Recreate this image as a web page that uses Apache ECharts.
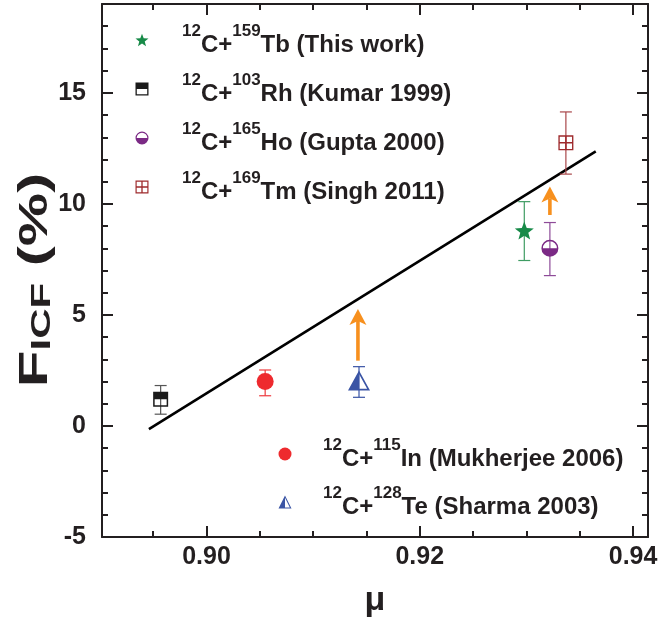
<!DOCTYPE html>
<html><head><meta charset="utf-8">
<script src="https://cdn.jsdelivr.net/npm/echarts@6/dist/echarts.min.js"></script>
<style>html,body{margin:0;padding:0;background:#fff}#c{width:660px;height:624px}</style>
</head><body><div id="c"></div>
<script>
// ---- data ----
const targets = ['Tb', 'Rh', 'Ho', 'Tm', 'In', 'Te'];
const massNumbers = ['159', '103', '165', '169', '115', '128'];
const references = ['This work', 'Kumar 1999', 'Gupta 2000', 'Singh 2011', 'Mukherjee 2006', 'Sharma 2003'];
const muValues = [0.9298, 0.8957, 0.9322, 0.9337, 0.9055, 0.9143];
const ficfValues = [8.8, 1.2, 8.0, 12.75, 2.0, 2.05];
const ficfLow = [7.45, 0.53, 6.77, 11.34, 1.36, 1.29];
const ficfHigh = [10.1, 1.82, 9.16, 14.14, 2.52, 2.67];
const fitMu = [0.8946, 0.9365];
const fitFicf = [-0.14, 12.36];
const arrowMu = [0.9142, 0.9322];
const arrowFrom = [2.94, 9.5];
const arrowTo = [5.27, 10.78];
const xMajorTicks = [0.90, 0.92, 0.94];
const xMinorTicks = [0.895, 0.905, 0.91, 0.915, 0.925, 0.93, 0.935];
const yLabelTicks = [-5, 0, 5, 10, 15];
const yMajorTicks = [0, 5, 10, 15];
const yMinorTicks = [-4, -3, -2, -1, 1, 2, 3, 4, 6, 7, 8, 9, 11, 12, 13, 14, 16, 17, 18];

// ---- styles ----
const FONT = 'Liberation Sans, Arial, Helvetica, sans-serif';
const INK = '#231f20';
const colors = ['#178a48', '#1a1a1a', '#7b2a85', '#9e2a2c', '#ee2a2e', '#3a54a5'];
const barColors = ['#3f9c63', '#555555', '#8e4b98', '#a8474a', '#ee3a3e', '#3a54a5'];

function starPath() {
  let d = '';
  for (let k = 0; k < 10; k++) {
    const r = k % 2 === 0 ? 50 : 21;
    const a = -Math.PI / 2 + k * Math.PI / 5;
    d += (k === 0 ? 'M' : 'L') + (50 + r * Math.cos(a)).toFixed(2) + ' ' + (50 + r * Math.sin(a)).toFixed(2) + ' ';
  }
  return 'path://' + d + 'Z';
}
const symbols = [
  starPath(),
  'path://M0 0L100 0L100 100L0 100Z M10 10L10 90L90 90L90 10Z M0 0L100 0L100 50L0 50Z',
  'path://M0 50A50 50 0 1 1 100 50A50 50 0 1 1 0 50Z M9 50A41 41 0 1 0 91 50A41 41 0 1 0 9 50Z M100 50A50 50 0 0 1 0 50Z',
  'path://M0 0L100 0L100 100L0 100Z M9 9L9 91L91 91L91 9Z M45 0L55 0L55 100L45 100Z M0 45L100 45L100 55L0 55Z',
  'circle',
  'path://M50 0L100 100L0 100Z M50 17.9L12.94 92L87.06 92Z M50 0L50 100L0 100Z'
];
const symbolSizes = [[19, 18], [15, 15], [17, 17], [15, 15], [17, 17], [22, 20]];

const names = targets.map((t, i) => '12C+' + massNumbers[i] + t + ' (' + references[i] + ')');

const X_MIN = 0.8902, X_MAX = 0.9414, Y_MIN = -5, Y_MAX = 19;

function xAxisDef(position, major) {
  return {
    type: 'value', position: position, min: X_MIN, max: X_MAX,
    axisLine: { show: major, onZero: false, lineStyle: { color: INK, width: 2 } },
    axisTick: { show: true, inside: true, length: major ? 11 : 6, lineStyle: { color: INK, width: 2 },
      customValues: major ? xMajorTicks : xMinorTicks },
    axisLabel: (position === 'bottom' && major) ? {
      show: true, customValues: xMajorTicks, formatter: v => v.toFixed(2), margin: 8,
      fontFamily: FONT, fontWeight: 'bold', fontSize: 25, color: INK
    } : { show: false },
    splitLine: { show: false },
    name: (position === 'bottom' && major) ? 'μ' : '',
    nameLocation: 'middle', nameGap: 47,
    nameTextStyle: { fontFamily: FONT, fontWeight: 'bold', fontSize: 34, color: INK }
  };
}
function yAxisDef(position, major) {
  const main = position === 'left' && major;
  return {
    type: 'value', position: position, min: Y_MIN, max: Y_MAX,
    axisLine: { show: major, onZero: false, lineStyle: { color: INK, width: 2 } },
    axisTick: { show: true, inside: true, length: major ? 11 : 6, lineStyle: { color: INK, width: 2 },
      customValues: major ? yMajorTicks : yMinorTicks },
    axisLabel: main ? {
      show: true, customValues: yLabelTicks, margin: 16,
      fontFamily: FONT, fontWeight: 'bold', fontSize: 25, color: INK
    } : { show: false },
    splitLine: { show: false }
  };
}

const series = [];
series.push({
  type: 'line', name: 'fit', data: fitMu.map((x, i) => [x, fitFicf[i]]),
  symbol: 'none', lineStyle: { color: '#000', width: 2.6 }, z: 2, silent: true
});
targets.forEach((t, i) => {
  series.push({
    type: 'custom', name: 'err' + i, z: 3, silent: true,
    data: [[muValues[i], ficfValues[i], ficfLow[i], ficfHigh[i]]],
    renderItem: (params, api) => {
      const x = api.value(0);
      const top = api.coord([x, api.value(3)]);
      const bot = api.coord([x, api.value(2)]);
      const hw = 6;
      const st = { stroke: barColors[i], lineWidth: 1.2 };
      return { type: 'group', children: [
        { type: 'line', shape: { x1: top[0], y1: top[1], x2: bot[0], y2: bot[1] }, style: st },
        { type: 'line', shape: { x1: top[0] - hw, y1: top[1], x2: top[0] + hw, y2: top[1] }, style: st },
        { type: 'line', shape: { x1: bot[0] - hw, y1: bot[1], x2: bot[0] + hw, y2: bot[1] }, style: st }
      ] };
    }
  });
});
series.push({
  type: 'custom', name: 'arrows', z: 4, silent: true,
  data: arrowMu.map((x, i) => [x, arrowFrom[i], arrowTo[i]]),
  renderItem: (params, api) => {
    const x = api.value(0);
    const a = api.coord([x, api.value(1)]);
    const b = api.coord([x, api.value(2)]);
    const hh = 16, hw = 8.5;
    return { type: 'group', children: [
      { type: 'line', shape: { x1: a[0], y1: a[1], x2: b[0], y2: b[1] + hh - 4 }, style: { stroke: '#f7901e', lineWidth: 3.6 } },
      { type: 'polygon', shape: { points: [[b[0], b[1]], [b[0] + hw, b[1] + hh], [b[0], b[1] + hh - 4], [b[0] - hw, b[1] + hh]] },
        style: { fill: '#f7901e' } }
    ] };
  }
});
targets.forEach((t, i) => {
  series.push({
    type: 'scatter', name: names[i], z: 5,
    symbol: symbols[i], symbolSize: symbolSizes[i], symbolKeepAspect: false,
    itemStyle: { color: colors[i], opacity: 1 },
    data: [[muValues[i], ficfValues[i]]]
  });
});

function makeLegendText(gap) {
  return {
    fontFamily: FONT, fontWeight: 'bold', fontSize: 24, color: INK,
    rich: {
      g: { width: gap, fontSize: 10, lineHeight: 14 },
      m: { fontFamily: FONT, fontWeight: 'bold', fontSize: 24, lineHeight: 34, color: INK, verticalAlign: 'bottom' },
      s: { fontFamily: FONT, fontWeight: 'bold', fontSize: 17, lineHeight: 14, color: INK, verticalAlign: 'top' }
    }
  };
}
function legendFormatter(name) {
  const i = names.indexOf(name);
  return '{g| }{s|12}{m|C+}{s|' + massNumbers[i] + '}{m|' + targets[i] + ' (' + references[i] + ')}';
}
function legendDef(idx, left, top, gap, textGap) {
  return {
    orient: 'vertical', left: left, top: top, itemWidth: 13, itemHeight: 13, itemGap: gap,
    selectedMode: false, padding: 0, formatter: legendFormatter, textStyle: makeLegendText(textGap),
    data: idx.map(i => ({ name: names[i], icon: symbols[i], itemStyle: { color: colors[i], borderWidth: 0 } }))
  };
}

const chart = echarts.init(document.getElementById('c'), null, { renderer: 'canvas' });
chart.setOption({
  animation: false,
  backgroundColor: '#fff',
  grid: { left: 102, right: 12, top: 4, bottom: 87, containLabel: false, outerBoundsMode: 'none' },
  xAxis: [xAxisDef('bottom', true), xAxisDef('bottom', false), xAxisDef('top', true), xAxisDef('top', false)],
  yAxis: [yAxisDef('left', true), yAxisDef('left', false), yAxisDef('right', true), yAxisDef('right', false)],
  legend: [legendDef([0, 1, 2, 3], 135.5, 23, 15, 28.5), legendDef([4, 5], 278.5, 437, 14, 26.5)],
  graphic: [{
    type: 'text', x: 36, y: 280, rotation: Math.PI / 2, scaleX: 1.5, scaleY: 1, silent: true,
    style: {
      text: '{m|F}{s|ICF}{m| (%)}', align: 'center', verticalAlign: 'middle',
      fontFamily: FONT, fontWeight: 'bold', fontSize: 40, fill: INK,
      rich: {
        m: { fontFamily: FONT, fontWeight: 'bold', fontSize: 40, lineHeight: 40, fill: INK, verticalAlign: 'top' },
        s: { fontFamily: FONT, fontWeight: 'bold', fontSize: 28, lineHeight: 18, fill: INK, verticalAlign: 'bottom' }
      }
    }
  }],
  series: series
});
</script></body></html>
